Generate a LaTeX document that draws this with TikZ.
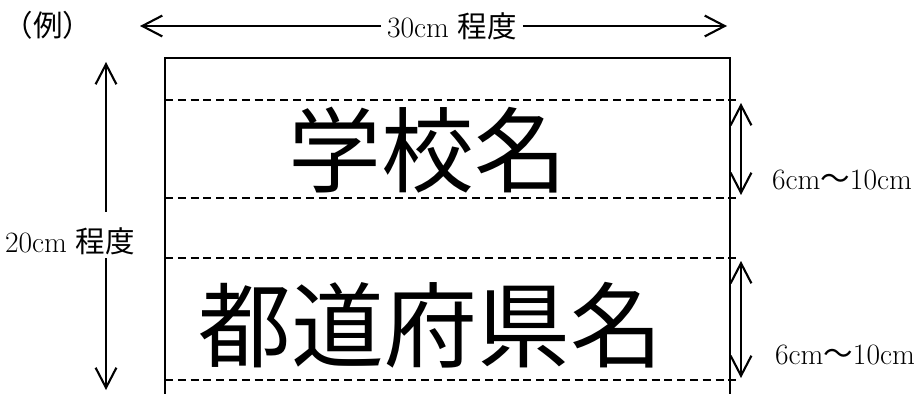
\documentclass[tikz,border=0pt]{standalone}
\usepackage{fontspec}
\newfontfamily\jp{Noto Sans CJK JP}
\usetikzlibrary{arrows.meta,positioning}

\tikzset{
  dimline/.style={line width=1.5pt, {Straight Barb[length=5mm,width=5.2mm]}-{Straight Barb[length=5mm,width=5.2mm]}},
  halfline/.style={line width=1.5pt, -{Straight Barb[length=5mm,width=5.2mm]}},
  guide/.style={line width=0.8pt, dashed, dash pattern=on 0.2cm off 0.12cm},
  frame/.style={line width=1.1pt},
  small/.style={inner sep=1pt, font=\fontsize{21}{24}\selectfont},
  big/.style={inner sep=0pt, font=\fontsize{66}{70}\selectfont\jp}
}

\begin{document}
\begin{tikzpicture}[x=0.025cm, y=-0.025cm]
  \useasboundingbox (0,0) rectangle (917,394);

  \node[small] (ex) at (48,25) {\jp（例）};

  % width
  \node[small, inner sep=4pt] (wlabel) at (452,26) {30cm {\jp 程度}};
  \coordinate (wl) at (140,26);
  \coordinate (wr) at (727,26);
  \draw[halfline] (wlabel.west) -- (wl);
  \draw[halfline] (wlabel.east) -- (wr);

  % height
  \node[small] (hlabel) at (70,241) {20cm {\jp 程度}};
  \coordinate (ht) at (106,62);
  \coordinate (hgapt) at (106,212);
  \coordinate (hgapb) at (106,258);
  \coordinate (hb) at (106,390);
  \draw[halfline] (hgapt) -- (ht);
  \draw[halfline] (hgapb) -- (hb);

  % board
  \draw[frame] (165,394) -- (165,58) -- (730,58) -- (730,394);
  \foreach \y in {100,198,258,380}
    \draw[guide] (165,\y) -- (741,\y);

  \node[big] (school) at (428,150) {学校名};
  \node[big] (pref) at (431,325) {都道府県名};

  % band heights
  \coordinate (a1) at (741,103);
  \coordinate (b1) at (741,195);
  \coordinate (a2) at (741,261);
  \coordinate (b2) at (741,378);
  \draw[dimline] (a1) -- (b1);
  \draw[dimline] (a2) -- (b2);
  \node[small] (r1label) at (842,180) {6cm{\jp ～}10cm};
  \node[small] (r2label) at (845,355) {6cm{\jp ～}10cm};
\end{tikzpicture}
\end{document}
